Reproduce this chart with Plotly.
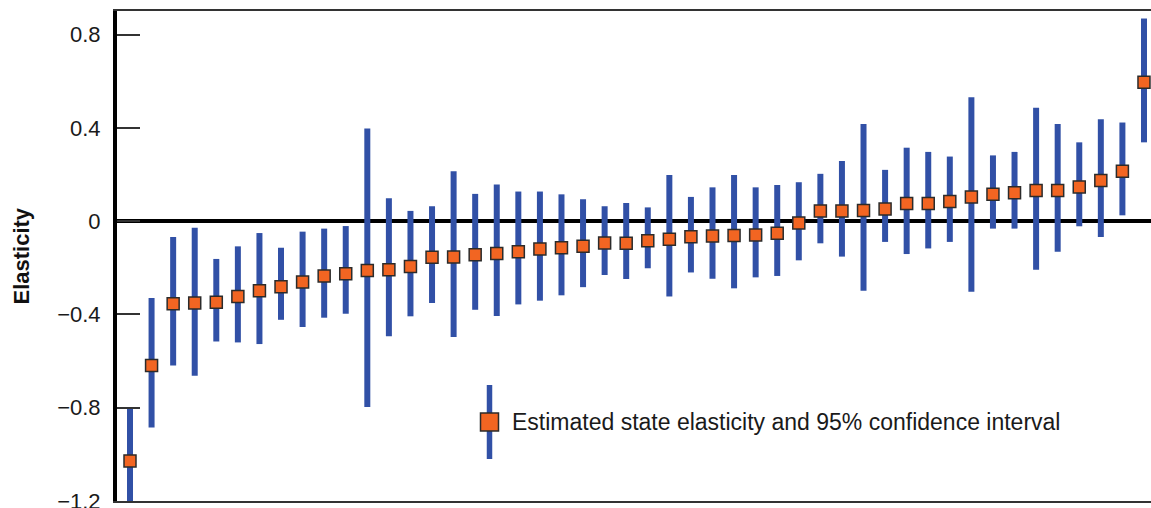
import plotly.graph_objects as go

# Ranked states (1 = lowest estimated elasticity)
state_rank = list(range(1, 49))

estimate = [-1.028, -0.619, -0.354, -0.351, -0.348, -0.323, -0.298, -0.281,
            -0.261, -0.235, -0.225, -0.212, -0.208, -0.194, -0.155, -0.154,
            -0.144, -0.139, -0.131, -0.119, -0.114, -0.108, -0.094, -0.095,
            -0.084, -0.078, -0.067, -0.064, -0.062, -0.059, -0.052, -0.008,
            0.044, 0.044, 0.046, 0.052, 0.076, 0.076, 0.084, 0.104,
            0.115, 0.122, 0.131, 0.132, 0.147, 0.174, 0.214, 0.596]

ci_high = [-0.797, -0.330, -0.068, -0.028, -0.162, -0.108, -0.051, -0.114,
           -0.045, -0.032, -0.021, 0.397, 0.098, 0.044, 0.064, 0.214,
           0.117, 0.157, 0.127, 0.127, 0.115, 0.094, 0.064, 0.078,
           0.059, 0.198, 0.104, 0.145, 0.198, 0.145, 0.155, 0.167,
           0.203, 0.258, 0.417, 0.220, 0.315, 0.297, 0.277, 0.531,
           0.282, 0.297, 0.486, 0.417, 0.338, 0.437, 0.423, 0.869]

ci_low = [-1.26, -0.885, -0.619, -0.663, -0.516, -0.520, -0.527, -0.423,
          -0.454, -0.414, -0.397, -0.797, -0.494, -0.408, -0.351, -0.497,
          -0.380, -0.407, -0.357, -0.341, -0.318, -0.283, -0.231, -0.248,
          -0.202, -0.323, -0.220, -0.247, -0.288, -0.241, -0.235, -0.168,
          -0.095, -0.152, -0.298, -0.089, -0.141, -0.117, -0.089, -0.303,
          -0.032, -0.032, -0.208, -0.131, -0.022, -0.068, 0.025, 0.338]

tick_vals = [-1.2, -0.8, -0.4, 0, 0.4, 0.8]
tick_text = ["\u22121.2", "\u22120.8", "\u22120.4", "0", "0.4", "0.8"]

legend_label = "Estimated state elasticity and 95% confidence interval"
y_title = "Elasticity"

BLUE = "#3150A6"
ORANGE = "#F26522"
OUTLINE = "#2B2B2B"
FONT = "Liberation Sans, Arial, sans-serif"

err_plus = [h - e for h, e in zip(ci_high, estimate)]
err_minus = [e - l for e, l in zip(estimate, ci_low)]

fig = go.Figure()
fig.add_trace(go.Scatter(
    x=state_rank, y=estimate, mode="markers",
    marker=dict(symbol="square", size=12, color=ORANGE,
                line=dict(color=OUTLINE, width=1.5)),
    error_y=dict(type="data", symmetric=False, array=err_plus,
                 arrayminus=err_minus, color=BLUE, thickness=6, width=0),
    showlegend=False,
))

W, H = 1151, 508
ML, MR, MT, MB = 117, 0, 11, 7
pw, ph = W - ML - MR, H - MT - MB


def px(xp):
    return (xp - ML) / pw


def py(yp):
    return (H - MB - yp) / ph


shapes = [
    # legend key: blue bar + orange square
    dict(type="line", xref="paper", yref="paper", x0=px(489.5), x1=px(489.5),
         y0=py(385), y1=py(459), line=dict(color=BLUE, width=5.5)),
    dict(type="rect", xref="paper", yref="paper", x0=px(480.5), x1=px(498.5),
         y0=py(413), y1=py(431), fillcolor=ORANGE,
         line=dict(color=OUTLINE, width=1.5)),
]

annotations = [
    dict(text=legend_label, xref="paper", yref="paper", x=px(510), y=py(421.5),
         xanchor="left", yanchor="middle", showarrow=False,
         font=dict(family=FONT, size=23, color="#1a1a1a")),
    dict(text="<b>" + y_title + "</b>", xref="paper", yref="paper",
         x=px(21), y=py(256.5), xanchor="center", yanchor="middle",
         textangle=-90, showarrow=False,
         font=dict(family=FONT, size=22, color="#111111")),
]

x_lo = 1 - (130 - ML) / 21.574
x_hi = x_lo + pw / 21.574
y_lo = -1.2
y_hi = y_lo + ph / 233.2

fig.update_layout(
    width=W, height=H,
    margin=dict(l=ML, r=MR, t=MT, b=MB, pad=0, autoexpand=False),
    paper_bgcolor="white", plot_bgcolor="white",
    font=dict(family=FONT, color="#1a1a1a"),
    showlegend=False,
    shapes=shapes, annotations=annotations,
    xaxis=dict(range=[x_lo, x_hi], showgrid=False, zeroline=False,
               showticklabels=False, ticks="", showline=True, mirror=True,
               linecolor="#333333", linewidth=2, automargin=False),
    yaxis=dict(range=[y_lo, y_hi], tickvals=tick_vals, ticktext=tick_text,
               ticks="inside", ticklen=23, tickwidth=1.5, tickcolor="#333333",
               showgrid=False, zeroline=True, zerolinecolor="black",
               zerolinewidth=4, showline=True, linecolor="black", linewidth=4,
               ticklabelstandoff=8, ticklabeloverflow="allow", automargin=False,
               tickfont=dict(family=FONT, size=22, color="#1a1a1a")),
)

fig.write_html("out.html")
